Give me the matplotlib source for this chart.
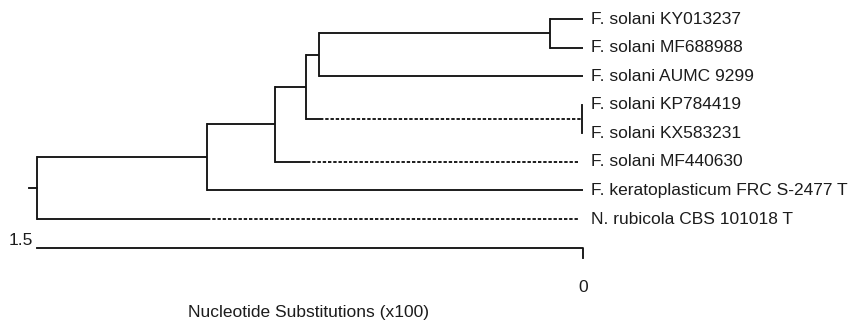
import numpy as np
import matplotlib.pyplot as plt

# leaf labels, top to bottom
leaf_names = [
    "F. solani KY013237",
    "F. solani MF688988",
    "F. solani AUMC 9299",
    "F. solani KP784419",
    "F. solani KX583231",
    "F. solani MF440630",
    "F. keratoplasticum FRC S-2477 T",
    "N. rubicola CBS 101018 T",
]
# distance from the right edge (substitutions x100); 0 = tip
leaf_heights = [0.0, 0.0, 0.0, 0.003, 0.003, 0.013, 0.0, 0.013]

# internal nodes: (child a, child b, height); numbered after the leaves
nodes = [
    (0, 1, 0.091),    # 8
    (3, 4, 0.003),    # 9
    (8, 2, 0.725),    # 10
    (10, 9, 0.761),   # 11
    (11, 5, 0.846),   # 12
    (12, 6, 1.033),   # 13
    (13, 7, 1.500),   # 14 root
]
# branches drawn dashed after this height (child index -> height)
dash_from = {9: 0.723, 5: 0.758, 7: 1.033}
root_stub = 0.022

scale_ticks = [1.5, 0]
scale_label = "Nucleotide Substitutions (x100)"

fig = plt.figure(figsize=(8.51, 3.26), dpi=100)
ax = fig.add_axes([0, 0, 1, 1])
ax.set_xlim(1.6016, -0.7363)
ax.set_ylim(10.745, -0.665)
ax.axis("off")

col = "#141414"
lw = 1.35
font = "Liberation Sans"
tcol = "#1c1c1c"
fs = 12.5

n_leaf = len(leaf_names)
height = list(leaf_heights) + [h for _, _, h in nodes]
ypos = list(np.arange(n_leaf, dtype=float)) + [0.0] * len(nodes)
for k, (a, b, h) in enumerate(nodes):
    ypos[n_leaf + k] = (ypos[a] + ypos[b]) / 2

for k, (a, b, h) in enumerate(nodes):
    ax.plot([h, h], [ypos[a], ypos[b]], color=col, lw=lw, solid_capstyle="projecting")
    for c in (a, b):
        if c in dash_from:
            d = dash_from[c]
            ax.plot([h, d], [ypos[c]] * 2, color=col, lw=lw, solid_capstyle="butt")
            ax.plot([d, height[c]], [ypos[c]] * 2, color=col, lw=lw,
                    linestyle=(0, (1.8, 1.0)), dash_capstyle="butt")
        else:
            ax.plot([h, height[c]], [ypos[c]] * 2, color=col, lw=lw, solid_capstyle="butt")

root = n_leaf + len(nodes) - 1
ax.plot([height[root], height[root] + root_stub], [ypos[root]] * 2, color=col, lw=lw)

for i, name in enumerate(leaf_names):
    ax.text(-0.022, i, name, ha="left", va="center", fontsize=fs,
            family=font, color=tcol)

# scale bar
sy = 8.015
ax.plot([scale_ticks[0], scale_ticks[1], scale_ticks[1]], [sy, sy, sy + 0.36],
        color=col, lw=lw)
ax.text(scale_ticks[0] + 0.011, sy, "1.5", ha="right", va="bottom",
        fontsize=fs, family=font, color=tcol)
ax.text(scale_ticks[1], 9.38, "0", ha="center", va="center",
        fontsize=fs, family=font, color=tcol)
fig.text(309 / 851, 1 - 313 / 326, scale_label, ha="center", va="center",
         fontsize=fs, family=font, color=tcol)

fig.savefig("out.png", dpi=100, facecolor="white")
